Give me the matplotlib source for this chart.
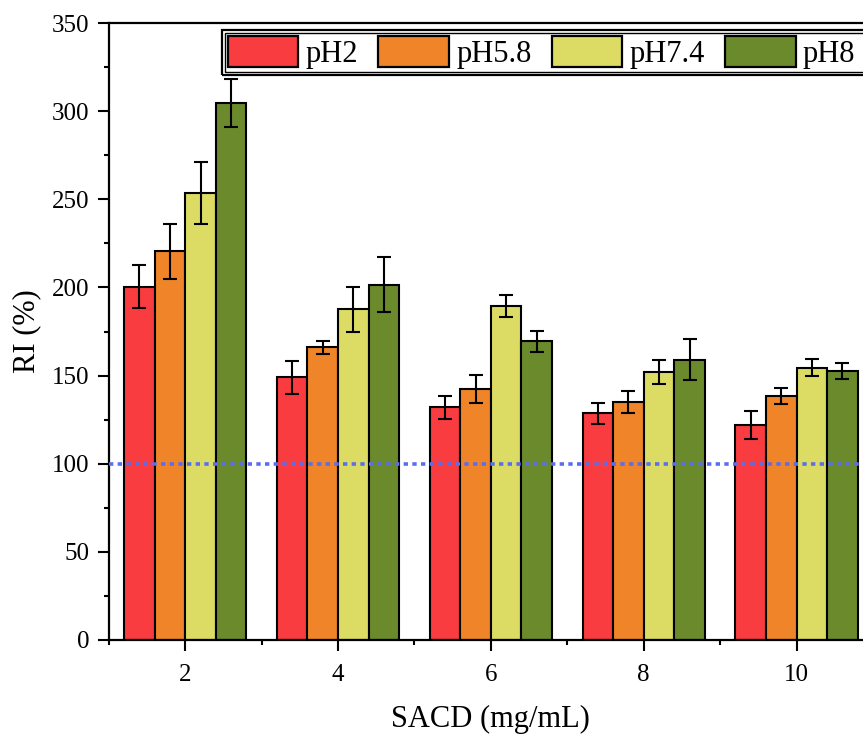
import numpy as np
import matplotlib
matplotlib.use("Agg")
import matplotlib.pyplot as plt
from matplotlib.patches import Rectangle
from matplotlib.ticker import MultipleLocator

plt.rcParams["font.family"] = ["Liberation Serif", "DejaVu Serif"]

# SACD concentration (mg/mL) and relative index per pH
sacd = [2, 4, 6, 8, 10]
series = ["pH2", "pH5.8", "pH7.4", "pH8"]
ri_ph2 = [200.5, 149.0, 132.0, 128.5, 122.0]
ri_ph58 = [220.5, 166.0, 142.5, 135.0, 138.5]
ri_ph74 = [253.5, 187.5, 189.5, 152.0, 154.5]
ri_ph8 = [304.5, 201.5, 169.5, 159.0, 152.5]
err_ph2 = [12.0, 9.5, 6.5, 6.0, 8.0]
err_ph58 = [15.5, 3.5, 8.0, 6.5, 4.5]
err_ph74 = [17.5, 13.0, 6.0, 7.0, 5.0]
err_ph8 = [13.5, 15.5, 6.0, 11.5, 4.5]
baseline = 100

colors = ["#F93C3F", "#EF8428", "#DCDC64", "#6A8A2C"]
values = [ri_ph2, ri_ph58, ri_ph74, ri_ph8]
errors = [err_ph2, err_ph58, err_ph74, err_ph8]

fig = plt.figure(figsize=(8.63, 7.34), dpi=100)
W, H = 863, 734
x_left, x_right = 108.8, 873.0
y_bot, y_top = 640.0, 23.0
ax = fig.add_axes([x_left / W, 1 - y_bot / H, (x_right - x_left) / W, (y_bot - y_top) / H])

width = 0.4
offsets = [-0.6, -0.2, 0.2, 0.6]
x = np.array(sacd, dtype=float)
handles = []
for vals, errs, col, off, name in zip(values, errors, colors, offsets, series):
    b = ax.bar(x + off, vals, width=width, color=col, edgecolor="black",
               linewidth=1.5, label=name, zorder=2)
    ax.errorbar(x + off, vals, yerr=errs, fmt="none", ecolor="black",
                elinewidth=1.5, capsize=5, capthick=1.5, zorder=4)
    handles.append(b)

ax.axhline(baseline, color="#5A6EF0", linewidth=2.6, linestyle=(0, (1.2, 1.2)),
           zorder=3)

ax.set_xlim(1, 11)
ax.set_ylim(0, 350)
ax.xaxis.set_major_locator(MultipleLocator(2))
ax.xaxis.set_minor_locator(MultipleLocator(1))
ax.yaxis.set_major_locator(MultipleLocator(50))
ax.yaxis.set_minor_locator(MultipleLocator(25))
ax.set_xticks(sacd)
ax.tick_params(axis="both", which="major", direction="out", length=8, width=1.5,
               labelsize=18, pad=6, colors="black")
ax.tick_params(axis="both", which="minor", direction="out", length=3.5, width=1.5)
ax.tick_params(axis="x", which="major", pad=9)
ax.tick_params(top=False, right=False, which="both")
for s in ax.spines.values():
    s.set_linewidth(1.6)

ax.set_xlabel("SACD (mg/mL)", fontsize=22, labelpad=14)
ax.set_ylabel("RI (%)", fontsize=22, labelpad=8)

leg = ax.legend(handles=handles, labels=series, ncol=4, loc="upper left",
                bbox_to_anchor=(224.5 / W, 1 - 33.0 / H),
                bbox_transform=fig.transFigure, borderaxespad=0,
                fontsize=22, handlelength=2.32, handleheight=1.18,
                handletextpad=0.23, columnspacing=0.66, borderpad=0.1,
                frameon=False)
leg.set_zorder(11)
for h in leg.legend_handles:
    h.set_linewidth(1.6)

# double border around the legend, running off the right edge
fig.canvas.draw()
bb = leg.get_window_extent()
right = W + 20
inner = Rectangle((bb.x0, bb.y0), right - bb.x0, bb.height, transform=None,
                  facecolor="white", edgecolor="black", linewidth=1.0, zorder=9)
pad = 3.0
outer = Rectangle((bb.x0 - pad, bb.y0 - pad), right - bb.x0 + pad, bb.height + 2 * pad,
                  transform=None, fill=False, edgecolor="black", linewidth=1.6,
                  zorder=10)
fig.patches.extend([inner, outer])
fig.artists.remove(leg) if leg in fig.artists else None
ax.legend_ = None
fig.add_artist(leg)

fig.savefig("out.png", dpi=100)
